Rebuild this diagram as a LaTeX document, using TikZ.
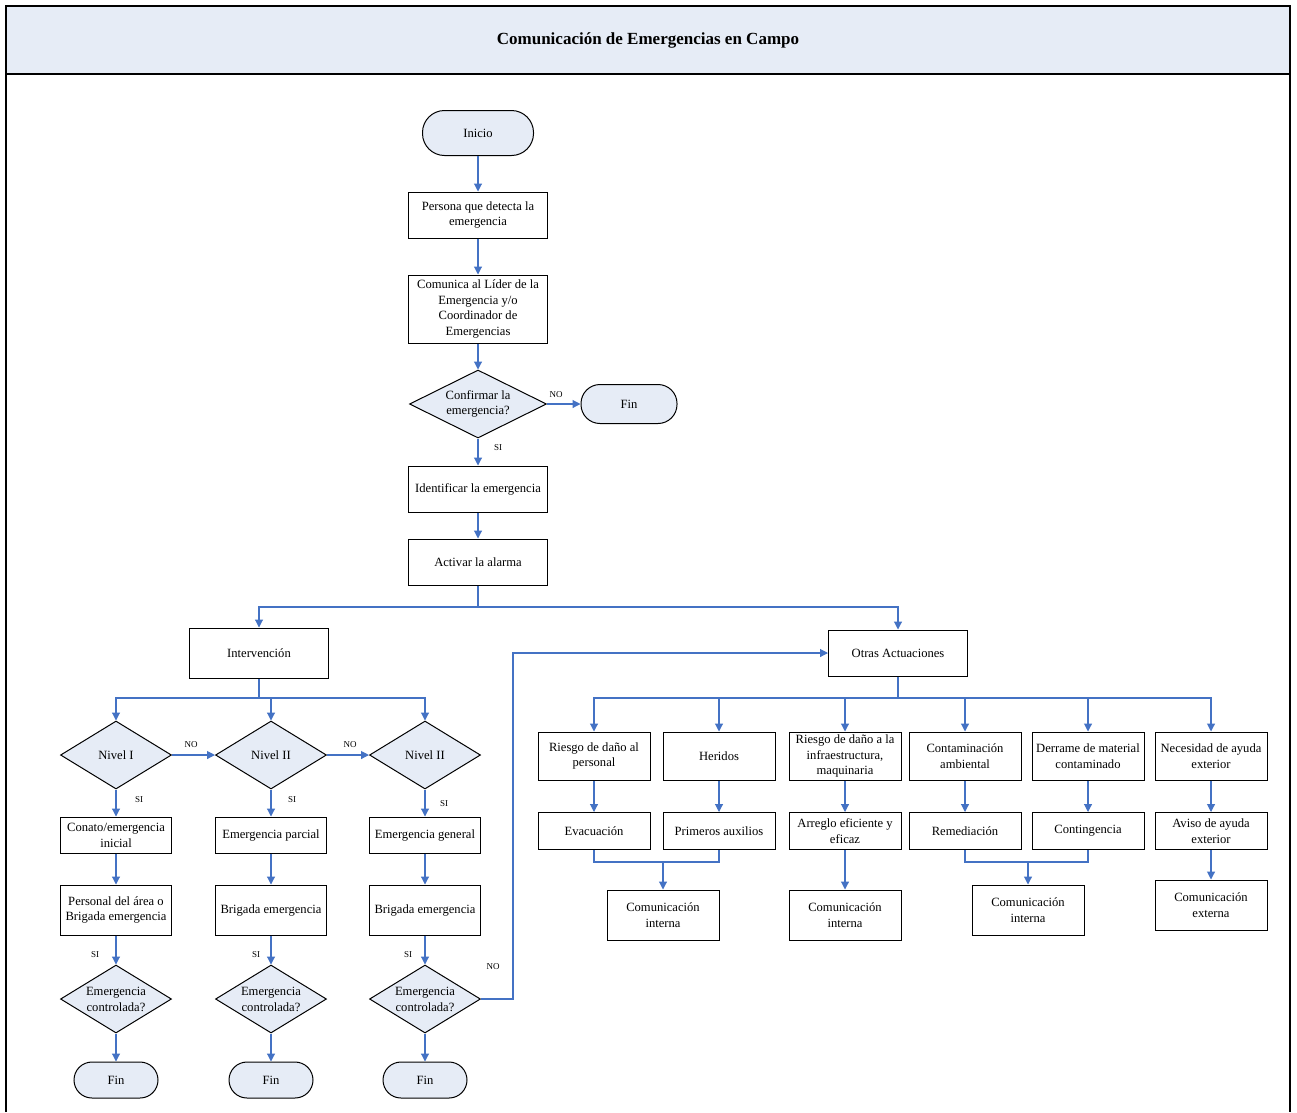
\documentclass[tikz,border=0pt]{standalone}
\usepackage{fontspec}
\setmainfont{Liberation Serif}
\usetikzlibrary{arrows.meta,shapes.geometric}
\definecolor{lineblue}{HTML}{4472C4}
\definecolor{paleblue}{HTML}{E6ECF6}

\begin{document}
\begin{tikzpicture}[x=1pt,y=-1pt,
  every node/.style={font=\fontsize{12.6}{15.8}\selectfont},
  box/.style={draw=black, line width=1pt, fill=white, minimum width=139pt,
    minimum height=46pt, inner sep=0pt, align=center},
  sbox/.style={box, minimum width=111pt},
  obox/.style={box, minimum width=112pt},
  term/.style={draw=black, line width=1pt, fill=paleblue, inner sep=0pt},
  dia/.style={diamond, draw=black, line width=1pt, fill=paleblue,
    minimum width=111pt, minimum height=68pt, inner sep=0pt},
  txt/.style={align=center},
  lab/.style={font=\fontsize{9}{10}\selectfont, inner sep=0pt},
  line/.style={draw=lineblue, line width=1.1pt},
  flow/.style={line, -{Triangle[length=8pt,width=8pt]}},
]
\useasboundingbox (0,0) rectangle (1297,1112);

% frame and heading band
\fill[paleblue] (6,6) rectangle (1290,74);
\draw[line width=1.3pt] (6,1112) -- (6,6) -- (1290,6) -- (1290,1112);
\draw[line width=1.3pt] (6,74) -- (1290,74);
\node[font=\fontsize{17}{20}\selectfont\bfseries] (titulo) at (648,40) {Comunicación de Emergencias en Campo};

% main column
\node[term, minimum width=111pt, minimum height=45pt, rounded corners=22pt] (inicio) at (478,133) {Inicio};
\node[box] (persona) at (478,215) {Persona que detecta la\\emergencia};
\node[box, minimum height=68pt] (comunica) at (478,309) {Comunica al Líder de la\\Emergencia y/o\\Coordinador de\\Emergencias};
\node[dia, minimum width=137pt, label={[txt]center:Confirmar la\\emergencia?}] (confirmar) at (478,404) {};
\node[term, minimum width=96pt, minimum height=39pt, rounded corners=19pt] (fin0) at (629,404) {Fin};
\node[box] (identificar) at (478,489) {Identificar la emergencia};
\node[box] (alarma) at (478,562) {Activar la alarma};

\node[lab] (no0) at (556,395) {NO};
\node[lab] (si0) at (498,448) {SI};

\draw[flow] (inicio) -- (persona);
\draw[flow] (persona) -- (comunica);
\draw[flow] (comunica) -- (confirmar);
\draw[flow] (confirmar.east) -- (fin0.west);
\draw[flow] (confirmar) -- (identificar);
\draw[flow] (identificar) -- (alarma);

% two branches
\node[box, minimum height=50pt] (interv) at (259,653) {Intervención};
\node[box] (otras) at (898,653) {Otras Actuaciones};
\coordinate (ramal) at (478,607);
\draw[flow] (alarma.south) -- (ramal) -| (interv.north);
\draw[flow] (ramal) -| (otras.north);

% intervention levels
\node[dia, label={[txt]center:Nivel I}] (n1) at (116,755) {};
\node[dia, label={[txt]center:Nivel II}] (n2) at (271,755) {};
\node[dia, label={[txt]center:Nivel II}] (n3) at (425,755) {};
\coordinate (rint) at (259,698);
\draw[flow] (interv.south) -- (rint) -| (n1.north);
\draw[flow] (rint) -| (n2.north);
\draw[flow] (rint) -| (n3.north);
\draw[flow] (n1.east) -- (n2.west);
\draw[flow] (n2.east) -- (n3.west);
\node[lab] (no1) at (191,745) {NO};
\node[lab] (no2) at (350,745) {NO};
\node[lab] (si1) at (139,800) {SI};
\node[lab] (si2) at (292,800) {SI};
\node[lab] (si3) at (444,804) {SI};

\node[sbox, minimum height=36pt] (c1) at (116,835) {Conato/emergencia\\inicial};
\node[sbox, minimum height=36pt] (c2) at (271,835) {Emergencia parcial};
\node[sbox, minimum height=36pt] (c3) at (425,835) {Emergencia general};
\node[sbox, minimum height=50pt] (p1) at (116,910) {Personal del área o\\Brigada emergencia};
\node[sbox, minimum height=50pt] (p2) at (271,910) {Brigada emergencia};
\node[sbox, minimum height=50pt] (p3) at (425,910) {Brigada emergencia};
\node[dia, label={[txt]center:Emergencia\\controlada?}] (e1) at (116,999) {};
\node[dia, label={[txt]center:Emergencia\\controlada?}] (e2) at (271,999) {};
\node[dia, label={[txt]center:Emergencia\\controlada?}] (e3) at (425,999) {};
\node[term, minimum width=84pt, minimum height=36pt, rounded corners=18pt] (f1) at (116,1080) {Fin};
\node[term, minimum width=84pt, minimum height=36pt, rounded corners=18pt] (f2) at (271,1080) {Fin};
\node[term, minimum width=84pt, minimum height=36pt, rounded corners=18pt] (f3) at (425,1080) {Fin};
\node[lab] (si4) at (95,955) {SI};
\node[lab] (si5) at (256,955) {SI};
\node[lab] (si6) at (408,955) {SI};
\node[lab] (no3) at (493,967) {NO};

\foreach \n in {1,2,3}{
  \draw[flow] (n\n) -- (c\n);
  \draw[flow] (c\n) -- (p\n);
  \draw[flow] (p\n) -- (e\n);
  \draw[flow] (e\n) -- (f\n);
}
\draw[flow] (e3.east) -- ++(32,0) |- (otras.west);

% other actions
\node[obox, minimum height=48pt] (r1) at (594,756) {Riesgo de daño al\\personal};
\node[obox, minimum height=48pt] (r2) at (719,756) {Heridos};
\node[obox, minimum height=48pt] (r3) at (845,756) {Riesgo de daño a la\\infraestructura,\\maquinaria};
\node[obox, minimum height=48pt] (r4) at (965,756) {Contaminación\\ambiental};
\node[obox, minimum height=48pt] (r5) at (1088,756) {Derrame de material\\contaminado};
\node[obox, minimum height=48pt] (r6) at (1211,756) {Necesidad de ayuda\\exterior};
\node[obox, minimum height=37pt] (s1) at (594,831) {Evacuación};
\node[obox, minimum height=37pt] (s2) at (719,831) {Primeros auxilios};
\node[obox, minimum height=37pt] (s3) at (845,831) {Arreglo eficiente y\\eficaz};
\node[obox, minimum height=37pt] (s4) at (965,831) {Remediación};
\node[obox, minimum height=37pt] (s5) at (1088,831) {Contingencia};
\node[obox, minimum height=37pt] (s6) at (1211,831) {Aviso de ayuda\\exterior};
\node[obox, minimum height=50pt] (ci1) at (663,915) {Comunicación\\interna};
\node[obox, minimum height=50pt] (ci2) at (845,915) {Comunicación\\interna};
\node[obox, minimum height=50pt] (ci3) at (1028,910) {Comunicación\\interna};
\node[obox, minimum height=50pt] (ce) at (1211,905) {Comunicación\\externa};

\coordinate (rotr) at (898,698);
\draw[line] (otras.south) -- (rotr);
\foreach \n in {1,...,6}{
  \draw[flow] (rotr) -| (r\n.north);
  \draw[flow] (r\n) -- (s\n);
}
\coordinate (j1) at (663,862);
\coordinate (j2) at (1028,862);
\draw[line] (s1.south) |- (j1);
\draw[line] (s2.south) |- (j1);
\draw[flow] (j1) -- (ci1.north);
\draw[flow] (s3) -- (ci2);
\draw[line] (s4.south) |- (j2);
\draw[line] (s5.south) |- (j2);
\draw[flow] (j2) -- (ci3.north);
\draw[flow] (s6) -- (ce);
\end{tikzpicture}
\end{document}
